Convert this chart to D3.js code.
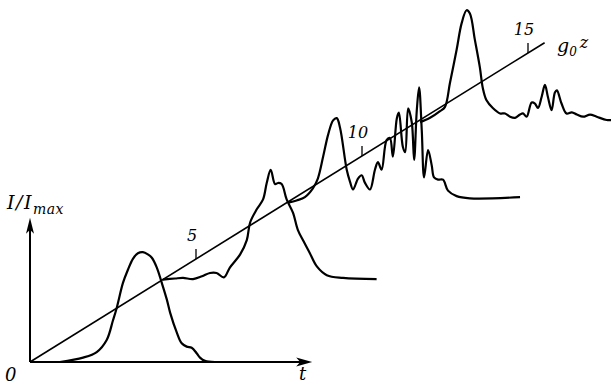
<!DOCTYPE html>
<html>
<head>
<meta charset="utf-8">
<script src="https://cdn.jsdelivr.net/npm/d3@7"></script>
<style>
  body { margin: 0; background: #fff; }
  svg text { font-family: "DejaVu Serif", serif; font-style: italic; fill: #000; }
</style>
</head>
<body>
<div id="chart"></div>
<script>
// pulse profiles I/Imax(t) drawn along the gain line g0*z

// gain line and its marks
const zEnd = 15.5;
const zTicks = [5, 10, 15];
const axisTEnd = 8.5;   // t axis length
const axisIEnd = 7.0;   // I/Imax axis length

// where each profile sits on the line
const profileZ = [0, 4, 8, 11.8];

// profile 1 (z = 0)
const p1t = [0.9, 1.6, 2.01, 2.31, 2.5, 2.61, 2.8, 2.95, 3.1, 3.25, 3.4, 3.55, 3.67, 3.82, 3.97, 4.12, 4.22, 4.42, 4.57, 4.72, 4.87, 5.02, 5.12, 5.27, 5.57];
const p1i = [0, 0.04, 0.09, 0.2, 0.38, 0.49, 0.72, 0.84, 0.94, 0.99, 1.0, 0.98, 0.95, 0.86, 0.72, 0.57, 0.45, 0.27, 0.17, 0.14, 0.13, 0.08, 0.04, 0.01, 0];

// profile 2 (z = 4)
const p2t = [0, 0.37, 0.61, 0.91, 1.18, 1.42, 1.62, 1.84, 2.02, 2.33, 2.53, 2.63, 2.83, 3.02, 3.13, 3.25, 3.38, 3.47, 3.58, 3.73, 3.92, 4.07, 4.22, 4.43, 4.64, 4.94, 5.43, 6.44];
const p2i = [0, 0.01, 0.015, 0.005, 0.03, 0.06, 0.06, 0.02, 0.11, 0.23, 0.36, 0.52, 0.64, 0.73, 0.88, 1.0, 0.87, 0.88, 0.87, 0.73, 0.61, 0.45, 0.36, 0.24, 0.12, 0.04, 0.015, 0.005];

// profile 3 (z = 8)
const p3t = [-0.22, 0.03, 0.28, 0.52, 0.67, 0.83, 0.98, 1.13, 1.24, 1.34, 1.54, 1.64, 1.73, 1.88, 1.99, 2.09, 2.24, 2.39, 2.48, 2.59, 2.74, 2.84, 2.93, 3.05, 3.11, 3.23, 3.3, 3.39, 3.5, 3.57, 3.65, 3.72, 3.8, 3.87, 3.99, 4.1, 4.17, 4.29, 4.44, 4.59, 4.85, 5.25, 6.76];
const p3i = [-0.05, -0.03, 0, 0.08, 0.17, 0.37, 0.57, 0.7, 0.72, 0.63, 0.25, 0.14, 0.07, 0.17, 0.2, 0.13, 0.07, 0.25, 0.32, 0.25, 0.52, 0.54, 0.37, 0.72, 0.77, 0.46, 0.41, 0.81, 0.68, 0.34, 0.79, 1.0, 0.61, 0.18, 0.43, 0.29, 0.18, 0.16, 0.16, 0.06, 0.01, -0.01, 0];

// profile 4 (z = 11.8)
const p4t = [-0.05, 0.25, 0.55, 0.7, 0.85, 1.05, 1.2, 1.35, 1.45, 1.6, 1.75, 1.84, 1.95, 2.14, 2.36, 2.51, 2.66, 2.81, 2.96, 3.05, 3.16, 3.31, 3.41, 3.5, 3.61, 3.71, 3.8, 3.91, 4.01, 4.07, 4.21, 4.36, 4.52, 4.67, 4.86, 5.07, 5.27, 5.57, 5.73];
const p4i = [-0.03, 0.01, 0.07, 0.11, 0.33, 0.63, 0.87, 0.99, 0.96, 0.72, 0.47, 0.28, 0.17, 0.1, 0.05, 0.05, 0.02, 0.01, 0.04, 0.05, 0.02, 0.15, 0.14, 0.1, 0.2, 0.31, 0.2, 0.08, 0.24, 0.26, 0.14, 0.05, 0.06, 0.04, 0.02, 0.04, 0.02, -0.01, -0.01];

const profiles = [[p1t, p1i], [p2t, p2i], [p3t, p3i], [p4t, p4i]];

const width = 611, height = 386;

// one unit of t and of g0*z share the same steps, so the gain line is I = t
const x = d3.scaleLinear().domain([0, 17]).range([30, 30 + 17 * 33.2]);
const y = d3.scaleLinear().domain([0, 17]).range([362, 362 - 17 * 20.6]);
const amp = d3.scaleLinear().domain([0, 1]).range([0, 5.33]);

const svg = d3.select("#chart")
    .append("svg")
    .attr("width", width)
    .attr("height", height);

// axes
svg.append("line")
    .attr("x1", x(0)).attr("y1", y(0))
    .attr("x2", x(axisTEnd) - 8).attr("y2", y(0))
    .attr("stroke", "#000").attr("stroke-width", 2);

svg.append("line")
    .attr("x1", x(0)).attr("y1", y(0))
    .attr("x2", x(0)).attr("y2", y(axisIEnd) + 8)
    .attr("stroke", "#000").attr("stroke-width", 2);

// arrow heads
let tx = x(axisTEnd), ty = y(0);
svg.append("path")
    .attr("d", `M${tx},${ty} L${tx - 16},${ty - 4.5} L${tx - 12},${ty} L${tx - 16},${ty + 4.5} Z`)
    .attr("fill", "#000");

let ix = x(0), iy = y(axisIEnd);
svg.append("path")
    .attr("d", `M${ix},${iy} L${ix - 4},${iy + 16} L${ix},${iy + 12} L${ix + 4},${iy + 16} Z`)
    .attr("fill", "#000");

// gain line g0 z
svg.append("line")
    .attr("x1", x(0)).attr("y1", y(0))
    .attr("x2", x(zEnd)).attr("y2", y(zEnd))
    .attr("stroke", "#000").attr("stroke-width", 1.6);

// ticks and their numbers
for (let z of zTicks) {
    svg.append("line")
        .attr("x1", x(z)).attr("y1", y(z))
        .attr("x2", x(z)).attr("y2", y(z) - 10)
        .attr("stroke", "#000").attr("stroke-width", 1.3);

    svg.append("text")
        .attr("x", x(z) - 4)
        .attr("y", y(z) - 18)
        .attr("text-anchor", "middle")
        .attr("font-size", 16)
        .text(z);
}

// the profiles
for (let [index, [ts, is]] of profiles.entries()) {
    let z = profileZ[index];
    let points = ts.map((t, k) => ({ t: t, i: is[k] }));

    let path = d3.line()
        .x(d => x(z + d.t))
        .y(d => y(z + amp(d.i)))
        .curve(d3.curveCatmullRom.alpha(0.5));

    svg.append("path")
        .datum(points)
        .attr("d", path)
        .attr("fill", "none")
        .attr("stroke", "#000")
        .attr("stroke-width", 2.2)
        .attr("stroke-linejoin", "round");
}

// labels
let yLabel = svg.append("text")
    .attr("x", 7)
    .attr("y", 209)
    .attr("font-size", 19)
    .attr("letter-spacing", 1.5);
yLabel.append("tspan").text("I/I");
yLabel.append("tspan")
    .attr("font-size", 14)
    .attr("dy", 5)
    .attr("letter-spacing", 0.5)
    .text("max");

svg.append("text")
    .attr("x", 5).attr("y", 381)
    .attr("font-size", 18)
    .text("0");

svg.append("text")
    .attr("x", 299).attr("y", 380)
    .attr("font-size", 18)
    .text("t");

let gLabel = svg.append("text")
    .attr("x", 557)
    .attr("y", 52)
    .attr("font-size", 19);
gLabel.append("tspan").text("g");
gLabel.append("tspan")
    .attr("font-size", 12)
    .attr("dy", 4)
    .text("0");
gLabel.append("tspan")
    .attr("font-size", 16)
    .attr("dy", -8)
    .attr("dx", 3)
    .text("z");
</script>
</body>
</html>
